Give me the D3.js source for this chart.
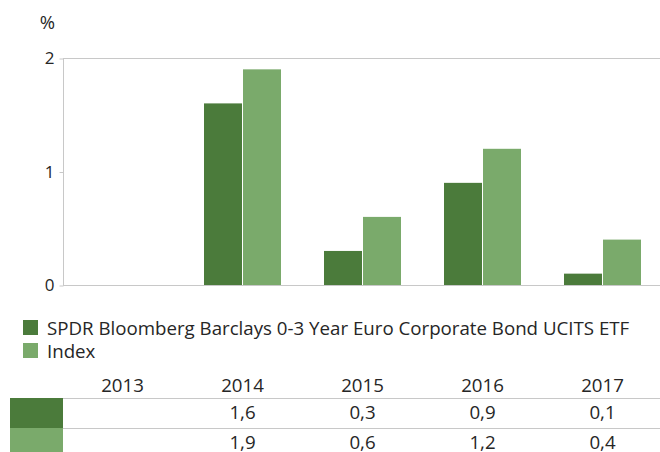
<!DOCTYPE html>
<html>
<head>
<meta charset="utf-8">
<script src="https://cdn.jsdelivr.net/npm/d3@7"></script>
<style>
  html, body { margin: 0; padding: 0; background: #fff; }
  svg { display: block; font-family: "Open Sans", sans-serif; }
</style>
</head>
<body>
<svg id="chart" width="660" height="452"></svg>
<script>
const years = ["2013", "2014", "2015", "2016", "2017"];
const fundValues = [null, 1.6, 0.3, 0.9, 0.1];
const indexValues = [null, 1.9, 0.6, 1.2, 0.4];
const seriesNames = ["SPDR Bloomberg Barclays 0-3 Year Euro Corporate Bond UCITS ETF", "Index"];
const yTicks = [0, 1, 2];
const colors = ["#4b7b3b", "#7aaa6b"];

const series = [fundValues, indexValues];
const svg = d3.select("#chart");
const textColor = "#262626";
const lineColor = "#c8c8c8";

const x = d3.scaleBand().domain(years).range([62.5, 662.5]).padding(0);
const xs = d3.scaleBand().domain([0, 1]).range([0, 77]).paddingInner(0.0256);
const y = d3.scaleLinear().domain([0, 2]).range([285, 58]);

// axes lines
svg.append("line").attr("x1", 63.5).attr("x2", 63.5).attr("y1", y(2)).attr("y2", y(0))
  .attr("stroke", lineColor).attr("stroke-width", 1);
svg.append("line").attr("x1", 63).attr("x2", 660).attr("y1", y(2) + 0.5).attr("y2", y(2) + 0.5)
  .attr("stroke", lineColor);
svg.append("line").attr("x1", 63).attr("x2", 660).attr("y1", y(0) + 0.5).attr("y2", y(0) + 0.5)
  .attr("stroke", lineColor);

const yAxis = d3.axisLeft(y).tickValues(yTicks).tickSize(4).tickPadding(5).tickFormat(d3.format("d"));
const ga = svg.append("g").attr("transform", "translate(63.5,0.5)").call(yAxis);
ga.select(".domain").remove();
ga.selectAll(".tick line").attr("stroke", lineColor);
ga.selectAll(".tick text").attr("fill", textColor).style("font-size", "17px")
  .style("font-family", "'Open Sans', sans-serif");

svg.append("text").attr("x", 47.5).attr("y", 29).attr("text-anchor", "middle")
  .attr("fill", textColor).style("font-size", "18.5px").text("%");

// bars
series.forEach((vals, si) => {
  svg.append("g").selectAll("rect")
    .data(years.map((yr, i) => ({ yr, v: vals[i] })).filter(d => d.v != null))
    .join("rect")
    .attr("x", d => x(d.yr) + (x.bandwidth() - 77) / 2 + xs(si))
    .attr("width", xs.bandwidth())
    .attr("y", d => y(d.v))
    .attr("height", d => y(0) - y(d.v))
    .attr("fill", colors[si]);
});

// legend
const leg = svg.append("g");
seriesNames.forEach((name, i) => {
  const ly = 320 + i * 23;
  leg.append("rect").attr("x", 23).attr("y", ly).attr("width", 15).attr("height", 15).attr("fill", colors[i]);
  leg.append("text").attr("x", 47).attr("y", ly + 15).attr("fill", textColor)
    .style("font-size", "18.7px").text(name);
});

// data table
const tbl = svg.append("g");
tbl.selectAll("text.hdr").data(years).join("text").attr("class", "hdr")
  .attr("x", d => x(d) + x.bandwidth() / 2).attr("y", 391.5)
  .attr("text-anchor", "middle").attr("fill", textColor).style("font-size", "18.7px").text(d => d);

const fmt = v => v == null ? "" : d3.format(".1f")(v).replace(".", ",");
series.forEach((vals, si) => {
  const top = 398 + si * 30;
  tbl.append("line").attr("x1", 63).attr("x2", 660).attr("y1", top + 0.5).attr("y2", top + 0.5)
    .attr("stroke", lineColor);
  tbl.append("rect").attr("x", 10).attr("y", top).attr("width", 53).attr("height", 30).attr("fill", colors[si]);
  tbl.selectAll(null).data(years.map((yr, i) => ({ yr, v: vals[i] }))).join("text")
    .attr("x", d => x(d.yr) + x.bandwidth() / 2).attr("y", top + 20.5)
    .attr("text-anchor", "middle").attr("fill", textColor).style("font-size", "18.7px")
    .text(d => fmt(d.v));
});
</script>
</body>
</html>
